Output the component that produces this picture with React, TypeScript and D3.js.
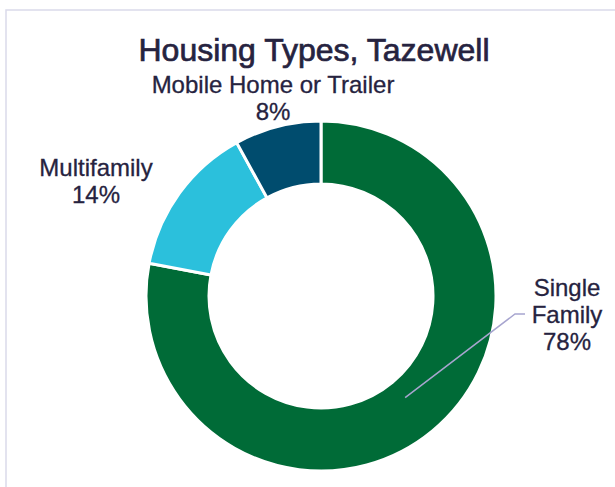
import React, { useEffect } from 'react';
import * as d3 from 'd3';

const categories = ['Single Family', 'Multifamily', 'Mobile Home or Trailer'];
const shares = [78, 14, 8];
const colors = ['#006B37', '#2BC0DC', '#004C6E'];
const chartTitle = 'Housing Types, Tazewell';

const width = 615;
const height = 487;
const cx = 321;
const cy = 296;
const outerR = 175;
const innerR = 112;

// label anchors (centre x, first baseline)
const labelPos: { [k: string]: [number, number] } = {
  'Single Family': [567, 296],
  Multifamily: [96, 176],
  'Mobile Home or Trailer': [273, 93],
};
const labelLines: { [k: string]: string[] } = {
  'Single Family': ['Single', 'Family'],
  Multifamily: ['Multifamily'],
  'Mobile Home or Trailer': ['Mobile Home or Trailer'],
};

type Row = { name: string; value: number; color: string };
const rows: Row[] = categories.map((c, i) => ({ name: c, value: shares[i], color: colors[i] }));

export default function App(): JSX.Element {
  useEffect(() => {
    document.body.style.margin = '0';
  }, []);

  const pie = d3
    .pie<Row>()
    .sort(null)
    .value((d) => d.value);
  const arcs = pie(rows);
  const arc = d3.arc<d3.PieArcDatum<Row>>().innerRadius(innerR).outerRadius(outerR);
  const mid = d3.arc<d3.PieArcDatum<Row>>().innerRadius(132).outerRadius(132);

  const font = "'Liberation Sans', Arial, sans-serif";
  const textColor = '#26233F';

  return (
    <svg width={width} height={height} style={{ display: 'block' }}>
      <rect width={width} height={height} fill="#fff" />
      <rect x={6} y={10} width={width + 20} height={height + 20} fill="none" stroke="#DADAEA" strokeWidth={1.5} />
      <text
        x={314}
        y={61}
        textAnchor="middle"
        fontFamily={font}
        fontSize={32}
        fill={textColor}
        stroke={textColor}
        strokeWidth={0.7}
      >
        {chartTitle}
      </text>
      <g transform={`translate(${cx},${cy})`}>
        {arcs.map((a) => (
          <path key={a.data.name} d={arc(a) || ''} fill={a.data.color} stroke="#fff" strokeWidth={3} />
        ))}
      </g>
      {arcs.map((a) => {
        const [lx, ly] = labelPos[a.data.name];
        const lines = [...labelLines[a.data.name], `${a.data.value}%`];
        let leader = null;
        if (a.data.name === 'Single Family') {
          const [sx, sy] = mid.centroid(a);
          leader = (
            <polyline
              points={`${cx + sx},${cy + sy} ${lx - 52},${ly + 18} ${lx - 42},${ly + 18}`}
              fill="none"
              stroke="#A7A5CF"
              strokeWidth={1.5}
            />
          );
        }
        return (
          <g key={a.data.name}>
            {leader}
            <text
              textAnchor="middle"
              fontFamily={font}
              fontSize={24}
              fill={textColor}
              stroke={textColor}
              strokeWidth={0.3}
            >
              {lines.map((t, i) => (
                <tspan key={i} x={lx} y={ly + i * 27}>
                  {t}
                </tspan>
              ))}
            </text>
          </g>
        );
      })}
    </svg>
  );
}
